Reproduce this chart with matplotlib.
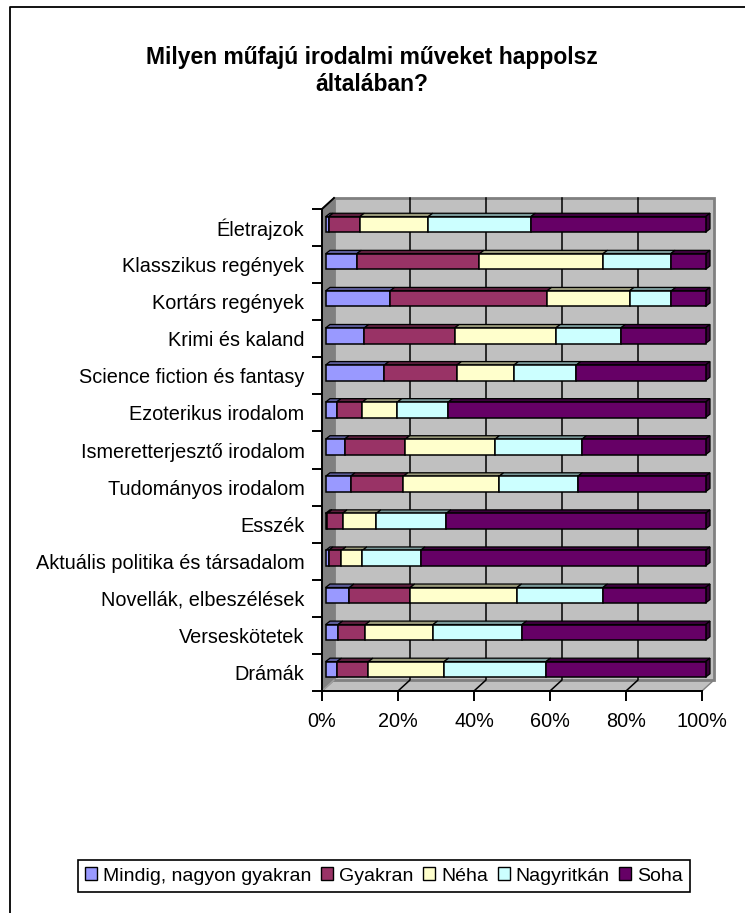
import matplotlib
matplotlib.use("Agg")
import matplotlib.pyplot as plt
import numpy as np
from matplotlib.patches import Polygon
from matplotlib.transforms import Affine2D, IdentityTransform
from matplotlib.colors import to_rgb

plt.rcParams['font.family'] = ['Liberation Sans', 'DejaVu Sans']

W, H = 745, 913
categories = ["Életrajzok", "Klasszikus regények", "Kortárs regények", "Krimi és kaland",
              "Science fiction és fantasy", "Ezoterikus irodalom", "Ismeretterjesztő irodalom",
              "Tudományos irodalom", "Esszék", "Aktuális politika és társadalom",
              "Novellák, elbeszélések", "Verseskötetek", "Drámák"]
mindig   = [0.8, 8.2, 17.0, 10.2, 15.5, 2.9, 5.0, 6.6, 0.5, 0.8, 6.3, 3.3, 3.0]
gyakran  = [8.2, 32.3, 41.3, 23.8, 19.1, 6.8, 16.0, 13.9, 4.0, 3.4, 16.0, 7.2, 8.3]
neha     = [18.0, 32.5, 21.7, 26.6, 15.0, 9.2, 23.6, 25.2, 8.9, 5.5, 28.1, 17.8, 19.9]
nagy     = [27.0, 17.8, 11.0, 17.1, 16.4, 13.4, 22.9, 20.7, 18.4, 15.3, 22.6, 23.4, 26.8]
soha     = [46.0, 9.2, 9.0, 22.3, 34.0, 67.7, 32.5, 33.6, 68.2, 75.0, 27.0, 48.3, 42.0]
series_names = ["Mindig, nagyon gyakran", "Gyakran", "Néha", "Nagyritkán", "Soha"]
series = [mindig, gyakran, neha, nagy, soha]
colors = ["#9999FF", "#993366", "#FFFFCC", "#CCFFFF", "#660066"]
xticks = [0, 20, 40, 60, 80, 100]
title = "Milyen műfajú irodalmi műveket happolsz\náltalában?"

fig = plt.figure(figsize=(W / 100, H / 100), dpi=100)

def px_box(x0, y0, x1, y1):
    return [x0 / W, 1 - y1 / H, (x1 - x0) / W, (y1 - y0) / H]

# chart frame: left and top edges only reach the image, right and bottom run off it
fig.add_artist(plt.Line2D([9.5 / W, 9.5 / W, 1], [0, 1 - 7 / H, 1 - 7 / H],
                          transform=fig.transFigure, color="black", lw=1.3, zorder=-1))

ax = fig.add_axes(px_box(322, 209, 702, 691))
n = len(categories)
ax.set_xlim(0, 100)
ax.set_ylim(n - 0.5, -0.5)
ax.patch.set_visible(False)
for s in ("top", "right"):
    ax.spines[s].set_visible(False)
for s in ("left", "bottom"):
    ax.spines[s].set_linewidth(1.4)
ax.set_xticks(xticks)
ax.set_xticklabels([f"{t}%" for t in xticks], fontsize=14.3)
ax.set_yticks(np.arange(n + 1) - 0.5, minor=False)
ax.set_yticklabels([""] * (n + 1))
ax.tick_params(axis="both", length=7, width=1.4, color="black")
ax.tick_params(axis="x", pad=8)
for i, c in enumerate(categories):
    ax.annotate(c, xy=(0, i), xycoords=("axes fraction", "data"), xytext=(-17.5 * .72, -2.0 * .72),
                textcoords="offset points", ha="right", va="center", fontsize=14.3)

DX, DY = 12, 11        # wall depth (px)
BX, BY = 3.5, 3.0      # bar offset from axis plane
DBX, DBY = 4.5, 3.5    # bar depth
HEIGHT = 0.42

def shade(col, f):
    return tuple(v * f for v in to_rgb(col))

def disp(x, y):
    return ax.transData.transform((x, y))

def poly(pts, **kw):
    ax.add_artist(Polygon(pts, closed=True, transform=IdentityTransform(), clip_on=False, **kw))

fig.canvas.draw()
y_top, y_bot = n - 0.5, -0.5
bl = disp(0, y_top); br = disp(100, y_top); tl = disp(0, y_bot)
wall = "#C0C0C0"
d = np.array([DX, DY])
# floor, side wall, back wall
poly([bl, br, br + d, bl + d], fc=wall, ec="#808080", lw=1, zorder=0.5)
poly([bl, tl, tl + d, bl + d], fc="#808080", ec="#808080", lw=1, zorder=0.6)
poly([bl + d, br + d, np.array(disp(100, y_bot)) + d, tl + d], fc=wall, ec="#808080", lw=2, zorder=0.7)
# gridlines on wall and floor
for t in xticks[1:-1]:
    p0 = disp(t, y_top)
    ax.add_line(plt.Line2D([p0[0], p0[0] + DX, p0[0] + DX], [p0[1], p0[1] + DY, disp(t, y_bot)[1] + DY],
                           transform=IdentityTransform(), color="black", lw=1.1, zorder=0.8, clip_on=False))
p0 = bl
ax.add_line(plt.Line2D([p0[0], p0[0] + DX], [p0[1], p0[1] + DY], transform=IdentityTransform(),
                       color="#A0A0A0", lw=1, zorder=0.8, clip_on=False))
ax.add_line(plt.Line2D([tl[0], tl[0] + DX], [tl[1], tl[1] + DY], transform=IdentityTransform(),
                       color="black", lw=1.4, zorder=0.8, clip_on=False))

# stacked bars
bar_tf = Affine2D().translate(BX, BY)
handles = []
left = np.zeros(n)
for name, vals, col in zip(series_names, series, colors):
    vals = np.array(vals)
    b = ax.barh(np.arange(n), vals, left=left, height=HEIGHT, color=col, edgecolor="black",
                linewidth=1.1, zorder=3, transform=ax.transData + bar_tf, clip_on=False, label=name)
    handles.append(b)
    for i in range(n):
        x0, x1 = left[i], left[i] + vals[i]
        a = disp(x0, i - HEIGHT / 2) + np.array([BX, BY])
        c = disp(x1, i - HEIGHT / 2) + np.array([BX, BY])
        e = np.array([DBX, DBY])
        poly([a, c, c + e, a + e], fc=shade(col, 0.6), ec="black", lw=0.9, zorder=2.5)
        if col == colors[-1]:
            g = disp(x1, i + HEIGHT / 2) + np.array([BX, BY])
            poly([c, g, g + e, c + e], fc=shade(col, 0.55), ec="black", lw=0.9, zorder=2.5)
    left = left + vals

fig.text(372 / W, 1 - 71 / H, title, ha="center", va="center", fontsize=16.5, fontweight="bold", linespacing=1.25)

# legend
leg = fig.legend(handles=handles, labels=series_names, loc="center",
                 bbox_to_anchor=(0.5 * (75 + 693) / W, 1 - 876 / H), ncol=5, fontsize=14,
                 frameon=True, fancybox=False, edgecolor="black", framealpha=1,
                 handlelength=0.62, handleheight=0.62, handletextpad=0.3, columnspacing=0.5,
                 borderpad=0.38, borderaxespad=0)
leg.get_frame().set_linewidth(1.2)
for h in leg.legend_handles:
    h.set_edgecolor("black")
    h.set_linewidth(1.0)

fig.savefig("out.png", dpi=100)
